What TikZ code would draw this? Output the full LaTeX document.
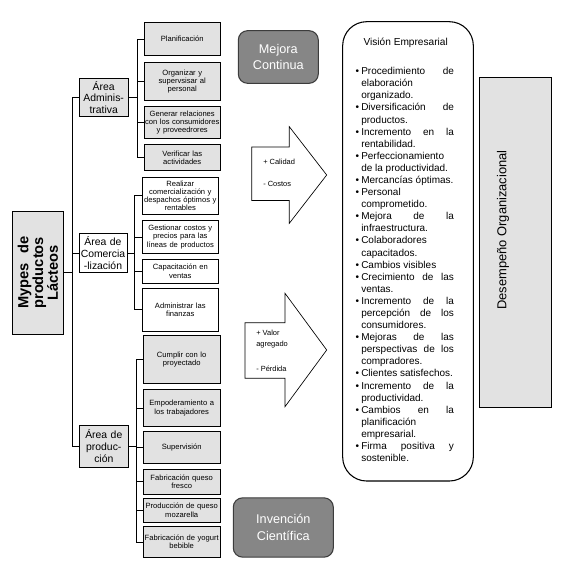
\documentclass[tikz,border=0pt]{standalone}
\usepackage{fontspec}
\setmainfont{Liberation Sans}
\usepackage{xcolor}
\usepackage{tikz}
\usetikzlibrary{positioning, calc}
\definecolor{softgray}{RGB}{226, 226, 226}
\definecolor{deepgray}{RGB}{134, 134, 134}
\definecolor{edgegray}{RGB}{60, 60, 60}
\newenvironment{vislist}{\begin{list}{\textbullet}{%
  \setlength{\leftmargin}{4.5pt}\setlength{\labelwidth}{3pt}%
  \setlength{\labelsep}{1.6pt}\setlength{\itemsep}{0pt}%
  \setlength{\parsep}{0pt}\setlength{\topsep}{0pt}%
  \setlength{\partopsep}{0pt}\setlength{\parskip}{0pt}}}{\end{list}}

\begin{document}
\begin{tikzpicture}[
    x=0.75pt, y=-0.75pt,
    subbox/.style={rectangle, draw, line width=0.6pt, fill=softgray, inner sep=0pt,
                minimum width=57.5pt, text width=57pt, align=center,
                font=\fontsize{5.7}{6.1}\selectfont},
    areabox/.style={rectangle, draw, line width=0.6pt, fill=softgray, inner sep=0pt,
                text width=36pt, align=center, font=\fontsize{7.8}{8.8}\selectfont},
    softbox/.style={rounded corners=7pt, draw=edgegray, line width=0.8pt, fill=deepgray,
                text=white, align=center, inner sep=0pt},
    arrowtext/.style={anchor=west, inner sep=0pt, align=left,
                font=\fontsize{5.6}{8.7}\selectfont},
    link/.style={line width=0.6pt}
]
\useasboundingbox (0,0) rectangle (572,567);

% root and areas
\node[areabox, minimum width=91.7pt, minimum height=38.1pt, text width=54pt, rotate=90,
      font=\bfseries\fontsize{11}{11}\selectfont] (mypes) at (37.9,272.8)
      {Mypes\hfill de\\productos\\Lácteos};
\path (mypes.south) coordinate (mypesE);
\node[areabox, minimum width=37pt, minimum height=28.8pt] (adm) at (103.7,97.5) {Área\\Adminis-\\trativa};
\node[areabox, fill=white, minimum width=35.5pt, minimum height=29.5pt] (com) at (103,253) {Área de\\Comercia\\-lización};
\node[areabox, minimum width=36.75pt, minimum height=31.7pt] (pro) at (103.8,446.2) {Área de\\produc-\\ción};

% administrative tasks
\node[subbox, minimum height=24.75pt] (plan) at (182.25,39.2) {Planificación};
\node[subbox, minimum height=28.3pt] (org) at (182.25,81.2) {Organizar y\\supervsisar al\\personal};
\node[subbox, minimum height=24.2pt] (gen) at (182.25,122.2) {Generar relaciones\\con los consumidores\\y proveedrores};
\node[subbox, minimum height=19.8pt] (ver) at (182.25,157.5) {Verificar las\\actividades};

% commercial tasks
\node[subbox, fill=white, minimum height=27.75pt] (real) at (180.3,195.8) {Realizar\\comercialización y\\despachos óptimos y\\rentables};
\node[subbox, fill=white, minimum height=24.45pt] (gest) at (180.3,237) {Gestionar costos y\\precios para las\\líneas de productos};
\node[subbox, fill=white, minimum height=18pt] (cap) at (180.3,271.3) {Capacitación en\\ventas};
\node[subbox, fill=white, minimum height=32pt] (fin) at (180.3,309.7) {Administrar las\\finanzas};

% production tasks
\node[subbox, minimum height=35.7pt] (cump) at (181.7,359.5) {Cumplir con lo\\proyectado};
\node[subbox, minimum height=28pt] (empo) at (181.7,408) {Empoderamiento a\\los trabajadores};
\node[subbox, minimum height=24.2pt] (sup) at (181.7,447.2) {Supervisión};
\node[subbox, minimum height=18.5pt] (fresco) at (181.7,481.7) {Fabricación queso\\fresco};
\node[subbox, minimum height=18pt] (moza) at (181.7,510.3) {Producción de queso\\mozarella};
\node[subbox, minimum height=23pt] (yog) at (181.7,542) {Fabricación de yogurt\\bebible};

% tree connectors
\draw[link] (mypesE) -- +(8.4,0) |- (adm.west);
\draw[link] (mypesE) -- +(8.4,0) |- (com.west);
\draw[link] (mypesE) -- +(8.4,0) |- (pro.west);
\draw[link] (adm.east) -- +(8.4,0) |- (plan.west);
\draw[link] (adm.east) -- +(8.4,0) |- (org.west);
\draw[link] (adm.east) -- +(8.4,0) |- (gen.west);
\draw[link] (adm.east) -- +(8.4,0) |- (ver.west);
\draw[link] (com.east) -- +(6.6,0) |- (real.west);
\draw[link] (com.east) -- +(6.6,0) |- (gest.west);
\draw[link] (com.east) -- +(6.6,0) |- (cap.west);
\draw[link] (com.east) -- +(6.6,0) |- (fin.west);
\draw[link] (pro.east) -- +(7.7,0) |- (cump.west);
\draw[link] (pro.east) -- +(7.7,0) |- (empo.west);
\draw[link] (pro.east) -- +(7.7,0) |- (sup.west);
\draw[link] (pro.east) -- +(7.7,0) |- (fresco.west);
\draw[link] (pro.east) -- +(7.7,0) |- (moza.west);
\draw[link] (pro.east) -- +(7.7,0) |- (yog.west);

% rounded labels
\node[softbox, minimum width=60pt, minimum height=39.5pt,
      font=\fontsize{9.5}{12.5}\selectfont] (mejora) at (278.3,57) {Mejora\\Continua};
\node[softbox, minimum width=75pt, minimum height=44.5pt,
      font=\fontsize{9.5}{12.8}\selectfont] (inven) at (283.3,527.5) {Invención\\Científica};

% block arrows
\draw[line width=0.5pt, fill=white] (251.7,147) -- (289.3,147) -- (289.3,126.7) -- (326.7,175)
      -- (289.3,223.3) -- (289.3,200.5) -- (251.7,200.5) -- cycle;
\node[arrowtext] (calidad) at (263,161.7) {+ Calidad};
\node[arrowtext] (costos) at (263,184.3) {- Costos};
\draw[line width=0.5pt, fill=white] (245,322.7) -- (285,322.7) -- (285,293.3) -- (326.7,350)
      -- (285,406.7) -- (285,378.3) -- (245,378.3) -- cycle;
\node[arrowtext] (valor) at (256,339.2) {+ Valor\\agregado};
\node[arrowtext] (perdida) at (256,368.3) {- Pérdida};

% vision box
\node[draw, line width=0.8pt, rounded corners=18pt, fill=white, minimum width=98pt,
      minimum height=344.5pt] (vision) at (408,251.35) {};
\node[inner sep=0pt, font=\fontsize{7.6}{9}\selectfont] (vtitle) at (405.7,43.3) {Visión Empresarial};
\node[anchor=north west, inner sep=0pt, text width=74pt, align=justify,
      font=\fontsize{7.5}{9.07}\selectfont] (vitems) at (355,62.3) {%
  \hyphenpenalty=10000 \exhyphenpenalty=10000 \tolerance=10000 \hbadness=10000
  \begin{vislist}
  \item Procedimiento de\linebreak elaboración\newline organizado.
  \item Diversificación de\linebreak productos.
  \item Incremento en la\linebreak rentabilidad.
  \item Perfeccionamiento\newline de la productividad.
  \item Mercancías óptimas.
  \item Personal\newline comprometido.
  \item Mejora de la\linebreak infraestructura.
  \item Colaboradores\newline capacitados.
  \item Cambios visibles
  \item Crecimiento de las\linebreak ventas.
  \item Incremento de la\linebreak percepción de los\linebreak consumidores.
  \item Mejoras de las\linebreak perspectivas de los\linebreak compradores.
  \item Clientes satisfechos.
  \item Incremento de la\linebreak productividad.
  \item Cambios en la\linebreak planificación\newline empresarial.
  \item Firma positiva y\linebreak sostenible.
  \end{vislist}};

% outcome
\node[draw, line width=0.6pt, fill=softgray, minimum width=54.5pt, minimum height=247.5pt]
      (desem) at (515.35,242.3) {};
\node[rotate=90, inner sep=0pt, font=\fontsize{9.7}{11}\selectfont] (desemtxt) at (503,230)
      {Desempeño Organizacional};
\end{tikzpicture}
\end{document}
